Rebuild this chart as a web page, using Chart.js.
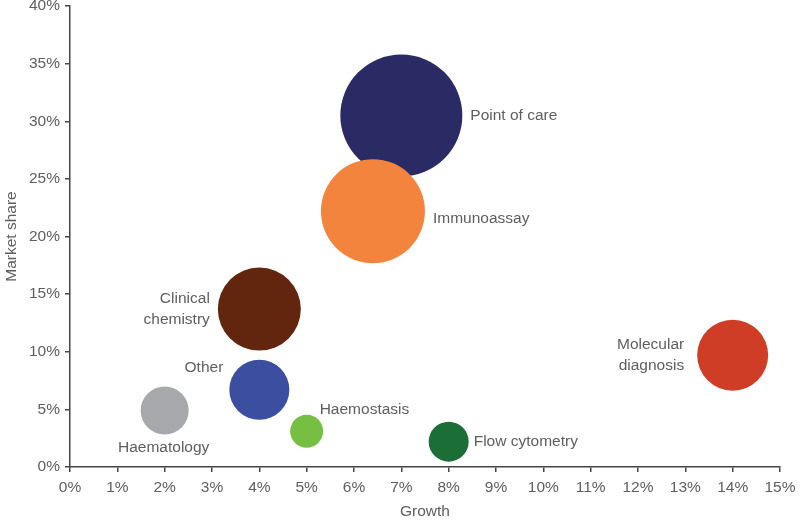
<!DOCTYPE html>
<html>
<head>
<meta charset="utf-8">
<script src="https://cdn.jsdelivr.net/npm/chart.js@4"></script>
<style>
  html, body { margin: 0; padding: 0; background: #fff; }
  #wrap { width: 800px; height: 521px; }
</style>
</head>
<body>
<div id="wrap"><canvas id="c" width="800" height="521"></canvas></div>
<script>
// ---- data ----
const categories = ["Point of care", "Immunoassay", "Clinical chemistry", "Other", "Haematology", "Molecular diagnosis", "Haemostasis", "Flow cytometry"];
const growth = [7.0, 6.4, 4.0, 4.0, 2.0, 14.0, 5.0, 8.0];        // %
const marketShare = [30.5, 22.2, 13.7, 6.7, 4.9, 9.7, 3.1, 2.2];  // %
const bubbleSize = [61, 52, 41.5, 30, 24, 35.5, 16.5, 20];        // bubble radius
const xTickLabels = ["0%","1%","2%","3%","4%","5%","6%","7%","8%","9%","10%","11%","12%","13%","14%","15%"];
const yTickLabels = ["0%","5%","10%","15%","20%","25%","30%","35%","40%"];

// ---- styles ----
const colors = ["#2a2a64", "#f3843e", "#62250d", "#3b4ea0", "#a7a8ab", "#d03d27", "#76bf43", "#1c6e37"];
const labelLines = [["Point of care"], ["Immunoassay"], ["Clinical", "chemistry"], ["Other"], ["Haematology"], ["Molecular", "diagnosis"], ["Haemostasis"], ["Flow cytometry"]];
// label placement relative to bubble: align, dx (from edge if useR), dy
const labelLayout = [
  {align: "left",   dx: 8,   useR: 1,  dy: 0},
  {align: "left",   dx: 8,   useR: 1,  dy: 8},
  {align: "right",  dx: -8,  useR: -1, dy: 0},
  {align: "right",  dx: -6,  useR: -1, dy: -22},
  {align: "center", dx: -1,  useR: 0,  dy: 37},
  {align: "right",  dx: -13, useR: -1, dy: 0},
  {align: "left",   dx: 13,  useR: 0,  dy: -22},
  {align: "left",   dx: 5,   useR: 1,  dy: 0}
];

const FONT = "'Liberation Sans', Arial, sans-serif";
const TEXT = "#5e5e5e";

const points = categories.map((c, i) => ({x: growth[i], y: marketShare[i], r: bubbleSize[i]}));

const labelPlugin = {
  id: "bubbleLabels",
  afterDatasetsDraw(chart) {
    const ctx = chart.ctx;
    const meta = chart.getDatasetMeta(0);
    ctx.save();
    ctx.font = "15.5px " + FONT;
    ctx.fillStyle = TEXT;
    ctx.textBaseline = "middle";
    meta.data.forEach((el, i) => {
      const L = labelLayout[i];
      const r = bubbleSize[i];
      const x = el.x + L.useR * r + L.dx;
      const lines = labelLines[i];
      const lh = 21;
      const y0 = el.y + L.dy - (lines.length - 1) * lh / 2;
      ctx.textAlign = L.align;
      lines.forEach((t, k) => ctx.fillText(t, x, y0 + k * lh));
    });
    ctx.restore();
  }
};

new Chart(document.getElementById("c"), {
  type: "bubble",
  data: {
    datasets: [{
      data: points,
      backgroundColor: colors,
      borderColor: colors,
      borderWidth: 0,
      hoverRadius: 0
    }]
  },
  options: {
    responsive: false,
    animation: false,
    events: [],
    layout: { autoPadding: false, padding: { top: 6, right: 20, left: 0, bottom: 0 } },
    plugins: { legend: { display: false }, tooltip: { enabled: false } },
    scales: {
      x: {
        type: "linear",
        min: 0, max: 15,
        afterFit(s) { s.height = 54; s.paddingLeft = 0; s.paddingRight = 0; },
        afterBuildTicks(s) { s.ticks = xTickLabels.map((t, i) => ({value: i})); },
        ticks: {
          stepSize: 1,
          autoSkip: false,
          maxRotation: 0,
          padding: 6,
          color: TEXT,
          font: { family: FONT, size: 15.5 },
          callback: (v, i) => xTickLabels[i]
        },
        grid: { display: true, drawOnChartArea: false, drawTicks: true, tickLength: 5, color: "#444", lineWidth: 1.5 },
        border: { display: true, color: "#444", width: 1.5 },
        title: { display: true, text: "Growth", color: TEXT, font: { family: FONT, size: 15.5 }, padding: { top: 2, bottom: 0 } }
      },
      y: {
        type: "linear",
        min: 0, max: 40,
        afterFit(s) { s.width = 70; s.paddingTop = 0; s.paddingBottom = 0; },
        afterBuildTicks(s) { s.ticks = yTickLabels.map((t, i) => ({value: i * 5})); },
        ticks: {
          stepSize: 5,
          autoSkip: false,
          padding: 5,
          color: TEXT,
          font: { family: FONT, size: 15.5 },
          callback: (v, i) => yTickLabels[i]
        },
        grid: { display: true, drawOnChartArea: false, drawTicks: true, tickLength: 5, color: "#444", lineWidth: 1.5 },
        border: { display: true, color: "#444", width: 1.5 },
        title: { display: true, text: "Market share", color: TEXT, font: { family: FONT, size: 15.5 }, padding: { top: 2, bottom: 2 } }
      }
    }
  },
  plugins: [labelPlugin]
});
</script>
</body>
</html>
